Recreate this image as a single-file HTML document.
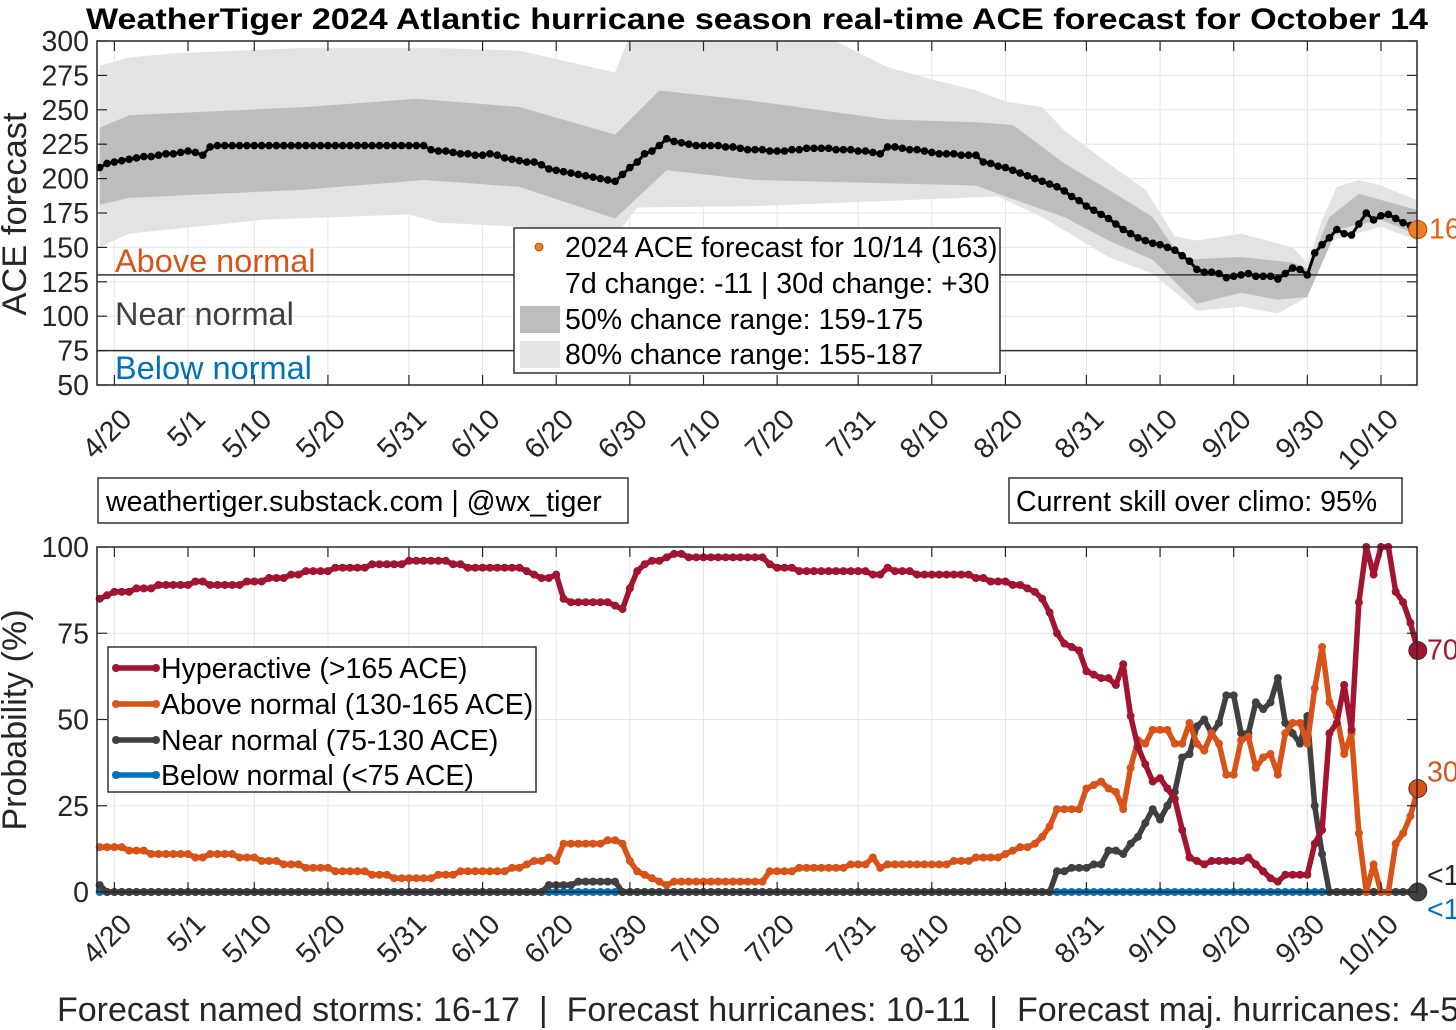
<!DOCTYPE html>
<html><head><meta charset="utf-8"><title>WeatherTiger ACE forecast</title>
<style>
html,body{margin:0;padding:0;background:#fff;}
svg{display:block;font-family:"Liberation Sans",Arial,sans-serif;}
</style></head>
<body>
<svg id="chart" width="1456" height="1030" viewBox="0 0 1456 1030" xmlns="http://www.w3.org/2000/svg">
<defs>
<clipPath id="clipTop"><rect x="97" y="41" width="1320" height="344"/></clipPath>
</defs>
<text x="757" y="29" text-anchor="middle" font-size="29.5" font-weight="bold" fill="#000" textLength="1342" lengthAdjust="spacingAndGlyphs">WeatherTiger 2024 Atlantic hurricane season real-time ACE forecast for October 14</text>
<g id="topPanel"></g>
<g id="botPanel"></g>
<g>
<rect x="98" y="478" width="530" height="45" fill="#fff" stroke="#333" stroke-width="1.5"/>
<text x="106" y="511" font-size="28.5" fill="#000">weathertiger.substack.com | @wx_tiger</text>
</g>
<g>
<rect x="1009" y="478" width="393" height="45" fill="#fff" stroke="#333" stroke-width="1.5"/>
<text x="1016" y="511" font-size="28.5" fill="#000">Current skill over climo: 95%</text>
</g>
<text x="57" y="1021" font-size="34" fill="#262626" xml:space="preserve">Forecast named storms: 16-17  |  Forecast hurricanes: 10-11  |  Forecast maj. hurricanes: 4-5</text>
</svg>
<script>
// ---- data (day index: 0 = 4/20) ----
const startDay = -1;
const meanACE = [208,211,212,213,214,215,216,216,217,218,
218,219,220,219,217,223,224,224,224,224,
224,224,224,224,224,224,224,224,224,224,
224,224,224,224,224,224,224,224,224,224,
224,224,224,224,224,
221,220,220,219,218,218,217,217,218,217,215,214,213,212,212,210,207,206,205,204,203,202,201,200,199,198,
203,208,212,218,220,224,229,227,226,225,224,
224,224,224,223,223,222,221,221,221,220,
220,220,221,221,222,222,222,222,221,221,
221,220,220,219,218,223,223,222,221,221,
220,219,218,218,218,217,217,217,212,211,
209,208,206,204,202,200,198,196,194,191,
187,184,180,177,174,171,167,163,160,157,
155,153,152,150,148,144,140,134,132,132,
131,128,129,130,131,129,129,129,127,131,
135,134,130,146,152,157,163,160,159,167,
175,170,173,174,171,168,166,163];
const u80Days = [-1,3,9,27,44,56,69,71,97,106,112,118,122,127,130,136,141,145,148,154,161,163,165,167,170,173,178];
const u80Vals = [282,288,291,295,295,293,277,305,305,281,272,264,256,252,235,211,192,158,155,160,150,139,170,194,199,195,184];
const l80Days = [-1,3,21,41,45,56,69,72,88,121,127,136,142,148,154,159,163,165,173,178];
const l80Vals = [150,160,170,174,168,165,158,179,180,187,172,143,131,104,107,102,114,153,165,155];
const u50Days = [-1,3,27,42,56,69,75,87,106,118,123,130,136,142,146,154,161,163,166,170,178];
const u50Vals = [237,246,252,258,252,232,264,257,243,241,239,211,192,172,141,143,139,134,172,189,177];
const l50Days = [-1,3,27,43,56,69,76,88,118,122,130,136,142,148,154,159,163,167,173,178];
const l50Vals = [181,186,192,199,194,171,206,199,195,187,172,155,141,109,117,112,114,163,170,159];

const pHyper = [85,86,87,87,87,88,88,88,89,89,
89,89,89,90,90,89,89,89,89,89,
90,90,90,91,91,91,92,92,93,93,
93,93,94,94,94,94,94,95,95,95,
95,95,96,96,96,96,96,96,95,95,
94,94,94,94,94,94,94,94,93,92,
91,91,92,85,84,84,84,84,84,84,
83,82,88,93,95,96,96,97,98,98,
97,97,97,97,97,97,97,97,97,97,
97,95,94,94,94,93,93,93,93,93,
93,93,93,93,93,92,92,94,93,93,
93,92,92,92,92,92,92,92,92,91,
91,90,90,90,89,89,88,87,85,81,
75,72,71,70,64,63,62,62,60,66,
51,42,37,32,33,30,27,18,10,9,
8,9,9,9,9,9,10,8,6,4,
3,5,5,5,5,14,18,46,49,60,
47,84,100,92,100,100,87,84,78,70];
const pAbove = [13,13,13,13,12,12,12,11,11,11,
11,11,11,10,10,11,11,11,11,10,
10,10,9,9,9,8,8,8,7,7,
7,7,6,6,6,6,6,5,5,5,
4,4,4,4,4,4,5,5,5,6,
6,6,6,6,6,6,7,7,8,9,
9,10,9,14,14,14,14,14,14,15,
15,14,9,6,5,4,3,2,3,3,
3,3,3,3,3,3,3,3,3,3,
3,6,6,6,6,7,7,7,7,7,
7,7,8,8,8,10,7,8,8,8,
8,8,8,8,8,8,9,9,9,10,
10,10,10,11,12,13,13,14,16,19,
24,24,24,24,30,31,32,30,29,24,
36,44,43,47,47,47,43,43,49,43,
41,46,43,34,34,44,45,36,39,40,
34,46,49,49,43,59,71,55,51,40,
46,17,0,8,0,0,14,17,22,30];
const pNear = [2,0,0,0,0,0,0,0,0,0,
0,0,0,0,0,0,0,0,0,0,
0,0,0,0,0,0,0,0,0,0,
0,0,0,0,0,0,0,0,0,0,
0,0,0,0,0,0,0,0,0,0,
0,0,0,0,0,0,0,0,0,0,
0,2,2,2,2,3,3,3,3,3,
3,0,0,0,0,0,0,0,0,0,
0,0,0,0,0,0,0,0,0,0,
0,0,0,0,0,0,0,0,0,0,
0,0,0,0,0,0,0,0,0,0,
0,0,0,0,0,0,0,0,0,0,
0,0,0,0,0,0,0,0,0,0,
6,6,7,7,7,8,8,12,12,11,
14,16,20,24,21,25,29,39,40,48,
50,46,49,57,57,46,46,55,53,55,
62,49,46,43,51,25,11,0,0,0,
0,0,0,0,0,0,0,0,0,0];
const pBelow = [0,0,0,0,0,0,0,0,0,0,
0,0,0,0,0,0,0,0,0,0,
0,0,0,0,0,0,0,0,0,0,
0,0,0,0,0,0,0,0,0,0,
0,0,0,0,0,0,0,0,0,0,
0,0,0,0,0,0,0,0,0,0,
0,0,0,0,0,0,0,0,0,0,
0,0,0,0,0,0,0,0,0,0,
0,0,0,0,0,0,0,0,0,0,
0,0,0,0,0,0,0,0,0,0,
0,0,0,0,0,0,0,0,0,0,
0,0,0,0,0,0,0,0,0,0,
0,0,0,0,0,0,0,0,0,0,
0,0,0,0,0,0,0,0,0,0,
0,0,0,0,0,0,0,0,0,0,
0,0,0,0,0,0,0,0,0,0,
0,0,0,0,0,0,0,0,0,0,
0,0,0,0,0,0,0,0,0,0];
const tickLabels = ["4/20","5/1","5/10","5/20","5/31","6/10","6/20","6/30","7/10","7/20","7/31","8/10","8/20","8/31","9/10","9/20","9/30","10/10"];
const tickDays = [1,11,20,30,41,51,61,71,81,91,102,112,122,133,143,153,163,173];
const aceTicks = [50,75,100,125,150,175,200,225,250,275,300];
const probTicks = [0,25,50,75,100];
const endLabels = ["70","30","<1","<1"];

// ---- axes ----
const X0 = 97, X1 = 1417;
const xs = d => X0 + (d + 1.36) * 7.364;
const yT = v => 41 + (300 - v) * 1.376;
const yB = v => 892 - v * 3.45;
const NS = "http://www.w3.org/2000/svg";
function mk(tag, attrs, parent){const e=document.createElementNS(NS,tag);for(const k in attrs)e.setAttribute(k,attrs[k]);parent.appendChild(e);return e;}
const topG = document.getElementById('topPanel');
const botG = document.getElementById('botPanel');
const FS = 28.5;

// ===== TOP PANEL =====
mk('rect',{x:X0,y:41,width:X1-X0,height:344,fill:'#fff'},topG);
const gridT = mk('g',{},topG);


aceTicks.forEach(v=>{mk('line',{x1:X0,x2:X1,y1:yT(v),y2:yT(v),stroke:'#e6e6e6','stroke-width':1},gridT);});
tickDays.forEach(d=>{mk('line',{x1:xs(d),x2:xs(d),y1:41,y2:385,stroke:'#e6e6e6','stroke-width':1},gridT);});
function bandPath(ud,uv,ld,lv){
  let p='';
  ud.forEach((d,i)=>{p+=(i?'L':'M')+xs(d).toFixed(1)+' '+yT(uv[i]).toFixed(1);});
  for(let i=ld.length-1;i>=0;i--){p+='L'+xs(ld[i]).toFixed(1)+' '+yT(lv[i]).toFixed(1);}
  return p+'Z';
}
const bands = mk('g',{'clip-path':'url(#clipTop)'},topG);
const b80 = mk('path',{d:bandPath(u80Days,u80Vals,l80Days,l80Vals),fill:'#e3e3e3'},bands);


const b50 = mk('path',{d:bandPath(u50Days,u50Vals,l50Days,l50Vals),fill:'#bdbdbd'},bands);


[130,75].forEach(v=>{const l=mk('line',{x1:X0,x2:X1,y1:yT(v),y2:yT(v),stroke:'#333','stroke-width':1.5},topG);

});
const catTxt = [["Above normal",115,272,'#d95319','above-normal-label'],["Near normal",115,325,'#404040','near-normal-label'],["Below normal",115,379,'#0072bd','below-normal-label']];
catTxt.forEach(c=>{const t=mk('text',{x:c[1],y:c[2],'font-size':32.5,fill:c[3]},topG);t.textContent=c[0];

});
const meanG = mk('g',{'clip-path':'url(#clipTop)'},topG);


let mp='';
meanACE.forEach((v,i)=>{mp+=(i?'L':'M')+xs(startDay+i).toFixed(1)+' '+yT(v).toFixed(1);});
mk('path',{d:mp,fill:'none',stroke:'#000','stroke-width':3},meanG);
meanACE.forEach((v,i)=>{const c=mk('circle',{cx:xs(startDay+i),cy:yT(v),r:3.8,fill:'#000'},meanG);

});
const lastI = meanACE.length-1;
const lastDot = mk('circle',{cx:xs(startDay+lastI),cy:yT(meanACE[lastI]),r:9,fill:'#f07d1e',stroke:'#c04a00','stroke-width':1},topG);


const lastTxt = mk('text',{x:1429,y:yT(meanACE[lastI])+9,'font-size':FS,fill:'#e8600c'},topG);
lastTxt.textContent = String(meanACE[lastI]);


mk('rect',{x:X0,y:41,width:X1-X0,height:344,fill:'none',stroke:'#262626','stroke-width':1.5},topG);
aceTicks.forEach(v=>{
  mk('line',{x1:X0,x2:X0+10,y1:yT(v),y2:yT(v),stroke:'#262626','stroke-width':1.2},topG);
  mk('line',{x1:X1-10,x2:X1,y1:yT(v),y2:yT(v),stroke:'#262626','stroke-width':1.2},topG);
  const t=mk('text',{x:89,y:yT(v)+10,'font-size':FS,'text-anchor':'end',fill:'#262626'},topG);t.textContent=v;
  
  
});
tickDays.forEach((d,i)=>{
  mk('line',{x1:xs(d),x2:xs(d),y1:385,y2:375,stroke:'#262626','stroke-width':1.2},topG);
  mk('line',{x1:xs(d),x2:xs(d),y1:41,y2:51,stroke:'#262626','stroke-width':1.2},topG);
  const ax=xs(d)+19, ay=421;
  const t=mk('text',{x:ax,y:ay,'font-size':FS,'text-anchor':'end',fill:'#262626',transform:`rotate(-45 ${ax} ${ay})`},topG);t.textContent=tickLabels[i];
  
  
});
const yl1 = mk('text',{x:26,y:214,'font-size':34.5,'text-anchor':'middle',fill:'#262626',transform:'rotate(-90 26 214)'},topG);
yl1.textContent='ACE forecast';


const lgT = mk('g',{},topG);


mk('rect',{x:514,y:228,width:486,height:145,fill:'#fff',stroke:'#333','stroke-width':1.5},lgT);
mk('circle',{cx:539,cy:247,r:4,fill:'#f07d1e',stroke:'#a04000','stroke-width':0.8},lgT);
mk('rect',{x:520,y:306,width:40,height:27,fill:'#bdbdbd'},lgT);
mk('rect',{x:520,y:341,width:40,height:27,fill:'#e3e3e3'},lgT);
[["2024 ACE forecast for 10/14 (163)",257],["7d change: -11 | 30d change: +30",293],["50% chance range: 159-175",329],["80% chance range: 155-187",364]].forEach(e=>{
  const t=mk('text',{x:565,y:e[1],'font-size':FS,fill:'#000'},lgT);t.textContent=e[0];
  
  
});

// ===== BOTTOM PANEL =====
mk('rect',{x:X0,y:547,width:X1-X0,height:345,fill:'#fff'},botG);
const gridB = mk('g',{},botG);


probTicks.forEach(v=>{mk('line',{x1:X0,x2:X1,y1:yB(v),y2:yB(v),stroke:'#e6e6e6','stroke-width':1},gridB);});
tickDays.forEach(d=>{mk('line',{x1:xs(d),x2:xs(d),y1:547,y2:892,stroke:'#e6e6e6','stroke-width':1},gridB);});
function series(vals,color,name,width){
  const g=mk('g',{},botG);
  
  
  let p='';
  vals.forEach((v,i)=>{p+=(i?'L':'M')+xs(startDay+i).toFixed(1)+' '+yB(v).toFixed(1);});
  mk('path',{d:p,fill:'none',stroke:color,'stroke-width':width,'stroke-linejoin':'round'},g);
  vals.forEach((v,i)=>{const c=mk('circle',{cx:xs(startDay+i),cy:yB(v),r:4,fill:color},g);
  
  });
  return g;
}
series(pBelow,'#0072bd','below-normal-series',5.5);
series(pNear,'#404040','near-normal-series',5.5);
series(pAbove,'#d95319','above-normal-series',5.5);
series(pHyper,'#a2142f','hyperactive-series',5.5);
const li = pHyper.length-1, lx = xs(startDay+li);
const ends = [[pHyper[li],'#a2142f',endLabels[0],yB(pHyper[li])+9,'#a2142f'],[pAbove[li],'#d95319',endLabels[1],yB(pAbove[li])-7,'#d95319'],[pNear[li],'#404040',endLabels[2],yB(pNear[li])-7,'#262626'],[pBelow[li],null,endLabels[3],yB(pBelow[li])+27,'#0072bd']];
ends.forEach(e=>{
  if(e[1]){const c=mk('circle',{cx:lx,cy:yB(e[0]),r:9,fill:e[1],stroke:'#222','stroke-width':0.8},botG);
  
  }
  const t=mk('text',{x:1427,y:e[3],'font-size':FS,fill:e[4]},botG);t.textContent=e[2];
  
  
});
mk('rect',{x:X0,y:547,width:X1-X0,height:345,fill:'none',stroke:'#262626','stroke-width':1.5},botG);
probTicks.forEach(v=>{
  mk('line',{x1:X0,x2:X0+10,y1:yB(v),y2:yB(v),stroke:'#262626','stroke-width':1.2},botG);
  mk('line',{x1:X1-10,x2:X1,y1:yB(v),y2:yB(v),stroke:'#262626','stroke-width':1.2},botG);
  const t=mk('text',{x:89,y:yB(v)+10,'font-size':FS,'text-anchor':'end',fill:'#262626'},botG);t.textContent=v;
  
  
});
tickDays.forEach((d,i)=>{
  mk('line',{x1:xs(d),x2:xs(d),y1:892,y2:882,stroke:'#262626','stroke-width':1.2},botG);
  mk('line',{x1:xs(d),x2:xs(d),y1:547,y2:557,stroke:'#262626','stroke-width':1.2},botG);
  const ax=xs(d)+19, ay=926;
  const t=mk('text',{x:ax,y:ay,'font-size':FS,'text-anchor':'end',fill:'#262626',transform:`rotate(-45 ${ax} ${ay})`},botG);t.textContent=tickLabels[i];
  
  
});
const yl2 = mk('text',{x:26,y:720,'font-size':34,'text-anchor':'middle',fill:'#262626',transform:'rotate(-90 26 720)'},botG);
yl2.textContent='Probability (%)';


const lgB = mk('g',{},botG);


mk('rect',{x:108,y:647,width:428,height:145,fill:'#fff',stroke:'#333','stroke-width':1.5},lgB);
[["Hyperactive (>165 ACE)",'#a2142f',668],["Above normal (130-165 ACE)",'#d95319',704],["Near normal (75-130 ACE)",'#404040',740],["Below normal (<75 ACE)",'#0072bd',775]].forEach(e=>{
  mk('line',{x1:116,x2:156,y1:e[2],y2:e[2],stroke:e[1],'stroke-width':5.5},lgB);
  mk('circle',{cx:116,cy:e[2],r:4,fill:e[1]},lgB);
  mk('circle',{cx:156,cy:e[2],r:4,fill:e[1]},lgB);
  const t=mk('text',{x:161,y:e[2]+10,'font-size':FS,fill:'#000'},lgB);t.textContent=e[0];
  
  
});
</script>
</body></html>
